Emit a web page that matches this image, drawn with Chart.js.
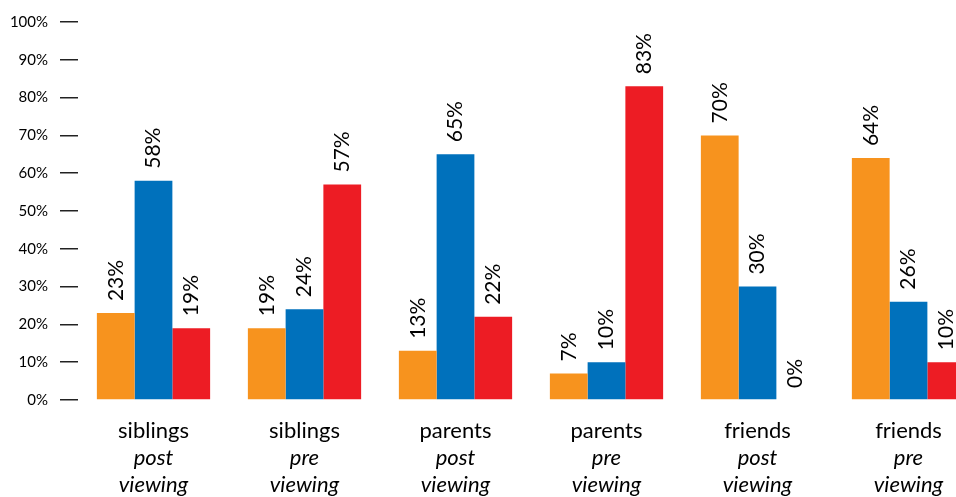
<!DOCTYPE html>
<html>
<head>
<meta charset="utf-8">
<script src="https://cdn.jsdelivr.net/npm/chart.js@4"></script>
<style>
  body { margin: 0; overflow: hidden; background: #fff; }
</style>
</head>
<body>
<canvas id="c" width="990" height="497"></canvas>
<script>
// who the kids talk to, before / after viewing
var groups = ['siblings', 'siblings', 'parents', 'parents', 'friends', 'friends'];
var phases = ['post', 'pre', 'post', 'pre', 'post', 'pre'];
var orangeVals = [23, 19, 13, 7, 70, 64];
var blueVals = [58, 24, 65, 10, 30, 26];
var redVals = [19, 57, 22, 83, 0, 10];
var yTicks = [0, 10, 20, 30, 40, 50, 60, 70, 80, 90, 100];

var FONT = 'Lato, "Open Sans", sans-serif';

// value labels, rotated, sitting on top of each bar
var valueLabels = {
  id: 'valueLabels',
  afterDatasetsDraw: function(chart) {
    var ctx = chart.ctx;
    ctx.save();
    ctx.fillStyle = '#000';
    ctx.font = '21px ' + FONT;
    ctx.textAlign = 'left';
    ctx.textBaseline = 'middle';
    chart.data.datasets.forEach(function(ds, di) {
      var meta = chart.getDatasetMeta(di);
      meta.data.forEach(function(bar, i) {
        ctx.save();
        ctx.translate(bar.x, bar.y - 12);
        ctx.rotate(-Math.PI / 2);
        ctx.fillText(ds.data[i] + '%', 0, 0);
        ctx.restore();
      });
    });
    ctx.restore();
  }
};

// three line category labels, second and third line in italics
var catLabels = {
  id: 'catLabels',
  afterDraw: function(chart) {
    var ctx = chart.ctx;
    var xs = chart.scales.x;
    var base = chart.chartArea.bottom;
    ctx.save();
    ctx.fillStyle = '#000';
    ctx.textAlign = 'center';
    ctx.textBaseline = 'alphabetic';
    for (var i = 0; i < groups.length; i++) {
      var x = xs.getPixelForValue(i);
      ctx.font = '22px ' + FONT;
      ctx.fillText(groups[i], x, base + 38);
      ctx.font = 'italic 22px ' + FONT;
      ctx.fillText(phases[i], x, base + 65);
      ctx.fillText('viewing', x, base + 92);
    }
    ctx.restore();
  }
};

new Chart(document.getElementById('c'), {
  type: 'bar',
  data: {
    labels: groups.map(function(g, i) { return g + ' ' + phases[i]; }),
    datasets: [
      { data: orangeVals, backgroundColor: '#F7931E' },
      { data: blueVals, backgroundColor: '#0071BC' },
      { data: redVals, backgroundColor: '#ED1C24' }
    ]
  },
  options: {
    responsive: false,
    animation: false,
    layout: { padding: { top: 22, bottom: 97, left: 0, right: 6 } },
    datasets: { bar: { barPercentage: 1, categoryPercentage: 0.75 } },
    plugins: { legend: { display: false }, tooltip: { enabled: false } },
    scales: {
      x: { display: false },
      y: {
        min: 0,
        max: 100,
        afterBuildTicks: function(axis) {
          axis.ticks = yTicks.map(function(v) { return { value: v }; });
        },
        afterFit: function(axis) { axis.width = 78; },
        border: { display: false },
        grid: {
          drawOnChartArea: false,
          drawTicks: true,
          tickLength: 18,
          color: '#222',
          lineWidth: 1.5
        },
        ticks: {
          padding: 12,
          color: '#000',
          font: { family: FONT, size: 15 },
          callback: function(v) { return v + '%'; }
        }
      }
    }
  },
  plugins: [valueLabels, catLabels]
});
</script>
</body>
</html>
